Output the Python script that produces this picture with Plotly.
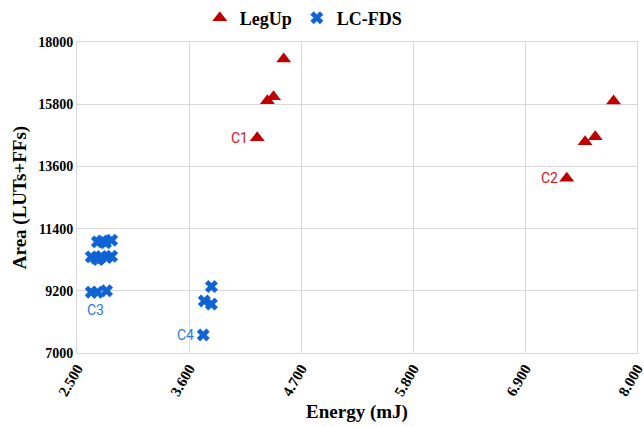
import plotly.graph_objects as go

# LegUp design points: energy (mJ) vs. area (LUTs+FFs)
legup_energy = [4.53, 4.43, 4.37, 4.27, 7.77, 7.59, 7.49, 7.31]
legup_area = [17400, 16060, 15920, 14610, 15910, 14650, 14470, 13180]

# LC-FDS design points
lcfds_energy = [2.70, 2.75, 2.84, 2.78,
                2.64, 2.69, 2.74, 2.79, 2.84, 2.71,
                2.64, 2.70, 2.79,
                3.82, 3.75, 3.82, 3.74]
lcfds_area = [10930, 10960, 10990, 10900,
              10400, 10350, 10410, 10380, 10420, 10310,
              9150, 9150, 9200,
              9350, 8840, 8730, 7640]

# Cluster labels: (series, point index, text)
cluster_labels = [("legup", 3, "C1"), ("legup", 7, "C2"),
                  ("lcfds", 10, "C3"), ("lcfds", 16, "C4")]

x_ticks = [2.5, 3.6, 4.7, 5.8, 6.9, 8.0]
x_tick_text = ["2.500", "3.600", "4.700", "5.800", "6.900", "8.000"]
y_ticks = [7000, 9200, 11400, 13600, 15800, 18000]

red = "#c00000"
blue = "#0f63d4"

fig = go.Figure()
fig.add_trace(go.Scatter(
    x=legup_energy, y=legup_area, mode="markers", name="LegUp",
    marker=dict(symbol="triangle-up", size=13, color=red),
))
fig.add_trace(go.Scatter(
    x=lcfds_energy, y=lcfds_area, mode="markers", name="LC-FDS",
    marker=dict(symbol="x", size=11, color=blue,
                line=dict(width=0.5, color=blue)),
))

series = {"legup": (legup_energy, legup_area, "#cc1a1a"),
          "lcfds": (lcfds_energy, lcfds_area, "#2a7ae0")}
for key, idx, text in cluster_labels:
    xs, ys, col = series[key]
    if text == "C3":
        fig.add_annotation(x=xs[idx], y=ys[idx], text=text, showarrow=False,
                           xanchor="center", yanchor="top", yshift=-8, xshift=4,
                           font=dict(family="Roboto", size=14, color=col))
    else:
        fig.add_annotation(x=xs[idx], y=ys[idx], text=text, showarrow=False,
                           xanchor="right", yanchor="middle", xshift=-7,
                           font=dict(family="Roboto", size=14, color=col))

grid = "#d9d9d9"
fig.update_layout(
    width=644, height=427,
    margin=dict(l=77, r=7, t=42, b=74, autoexpand=False),
    paper_bgcolor="white", plot_bgcolor="white",
    showlegend=True,
    legend=dict(orientation="h", x=0.405, xanchor="center", y=1.077,
                yanchor="middle",
                font=dict(family="Liberation Serif", size=18, color="black",
                          weight="bold"),
                itemwidth=30),
    xaxis=dict(range=[2.5, 8.0], tickvals=x_ticks, ticktext=x_tick_text,
               tickangle=-60, showgrid=True, gridcolor=grid,
               ticklabeloverflow="allow", automargin=False,
               showline=True, linecolor=grid, mirror=True, zeroline=False,
               tickfont=dict(family="Liberation Serif", size=15,
                             color="black", weight="bold"),
               title=dict(text="Energy (mJ)", standoff=6,
                          font=dict(family="Liberation Serif", size=19,
                                    color="black", weight="bold"))),
    yaxis=dict(range=[7000, 18000], tickvals=y_ticks, tickformat="d",
               showgrid=True, gridcolor=grid, automargin=False,
               showline=True, linecolor=grid, mirror=True, zeroline=False,
               tickfont=dict(family="Liberation Serif", size=14,
                             color="black", weight="bold"),
               title=dict(text="Area (LUTs+FFs)", standoff=6,
                          font=dict(family="Liberation Serif", size=19,
                                    color="black", weight="bold"))),
)

fig.write_html("out.html")
